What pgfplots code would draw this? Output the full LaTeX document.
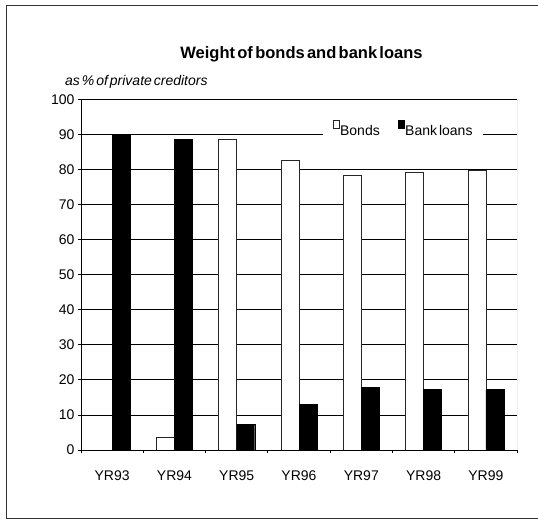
\documentclass[border=0pt]{standalone}
\usepackage{fontspec}
\setmainfont{Liberation Sans}[WordSpace=0.5]
\usepackage{pgfplots}
\pgfplotsset{compat=1.18}

\begin{document}
\begin{tikzpicture}[x=1pt,y=1pt]
\clip (0,0) rectangle (538,521);
\fill[white] (0,0) rectangle (538,521);
\draw[black!80, line width=1.5pt] (6.5,2.5) rectangle (560,515.5);

\node[anchor=base, inner sep=0, font=\fontsize{16.5}{18}\selectfont\bfseries]
  at (301.5,462) {Weight of bonds and bank loans};
\node[anchor=base west, inner sep=0, font=\fontsize{14}{16}\selectfont\itshape]
  at (65,435) {as \% of private creditors};

\begin{axis}[
    at={(81pt,71pt)}, anchor=south west,
    scale only axis,
    width=436pt, height=350.7pt,
    xmin=-0.5, xmax=6.5,
    ymin=0, ymax=100,
    ytick={0,10,...,100},
    xtick={-0.5,0.5,...,6.5},
    xticklabels={},
    extra x ticks={0,1,2,3,4,5,6},
    extra x tick labels={YR93,YR94,YR95,YR96,YR97,YR98,YR99},
    extra x tick style={major tick length=0pt,
      xticklabel style={yshift=-17pt}},
    axis x line*=bottom, axis y line*=left,
    axis line style={black, line width=0.8pt},
    tick align=outside,
    major tick length=3pt,
    tick style={black, line width=0.8pt},
    ymajorgrids,
    grid style={black, line width=0.75pt},
    tick label style={font=\fontsize{14}{16}\selectfont},
    /pgf/number format/assume math mode=true,
    ybar=0pt,
    bar width=18pt,
    legend columns=-1,
    legend style={at={(0.7385,0.915)}, anchor=center, draw=none, fill=white,
      font=\fontsize{14}{16}\selectfont, inner xsep=10pt,
      nodes={inner sep=0.5pt},
      /tikz/every odd column/.append style={column sep=0pt},
      /tikz/every even column/.append style={column sep=18pt}},
    legend image code/.code={\draw[#1] (0pt,3pt) rectangle (6pt,11pt);},
]
\addplot[fill=white, draw=black!85, line width=0.7pt] coordinates {
    (1,3.7) (2,88.6) (3,82.6) (4,78.2) (5,79.3) (6,79.7)
};
\addlegendentry{Bonds}
\addplot[fill=black, draw=black] coordinates {
    (0,89.7) (1,88.5) (2,7.3) (3,13.0) (4,17.8) (5,17.2) (6,17.3)
};
\addlegendentry{Bank loans}
\draw[black!45, line width=0.8pt] (rel axis cs:1,0) -- (rel axis cs:1,1);
\end{axis}
\end{tikzpicture}
\end{document}
